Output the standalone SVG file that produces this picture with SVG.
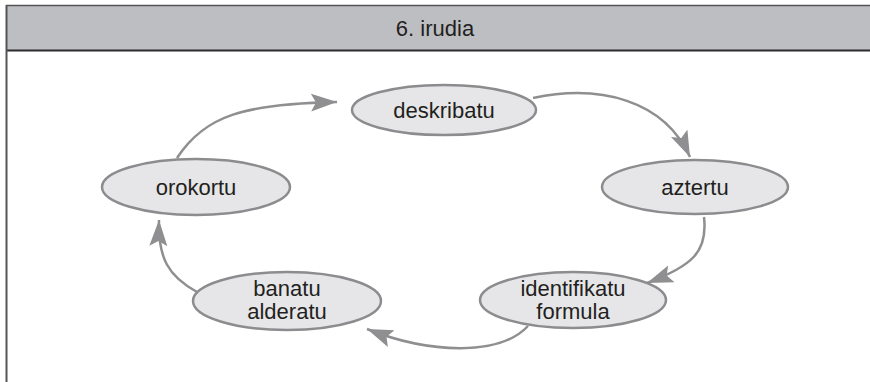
<svg xmlns="http://www.w3.org/2000/svg" width="870" height="382" viewBox="0 0 870 382">
<style>
  .node ellipse { fill: #e6e6e8; stroke: #8c8c8e; stroke-width: 2.5; }
  .node text { font-family: "Liberation Sans", Arial, sans-serif; font-size: 22px; fill: #231f20; text-anchor: middle; }
  .title { font-family: "Liberation Sans", Arial, sans-serif; font-size: 22px; fill: #231f20; text-anchor: middle; }
  #connectors path { fill: none; stroke: #8f8f91; stroke-width: 2.5; marker-end: url(#arrow); }
</style>
<defs>
  <marker id="arrow" markerUnits="userSpaceOnUse" markerWidth="28" markerHeight="20" viewBox="0 0 28 20" refX="26" refY="10" orient="auto">
    <path d="M0,1 L26,10 L0,19 L5,10 Z" fill="#8f8f91"/>
  </marker>
</defs>
<rect x="0" y="0" width="870" height="382" fill="#ffffff"/>
<g id="frame">
  <rect x="6" y="5" width="866" height="45" fill="#bdbec1"/>
  <line x1="6" y1="5.5" x2="870" y2="5.5" stroke="#555557" stroke-width="1.5"/>
  <line x1="6" y1="50.5" x2="870" y2="50.5" stroke="#2b2b2d" stroke-width="2"/>
  <line x1="6.5" y1="5" x2="6.5" y2="382" stroke="#555557" stroke-width="2"/>
  <text class="title" x="435" y="36">6. irudia</text>
</g>
<g id="connectors">
  <path d="M177,158 C205,115 245,104 337,102"/>
  <path d="M533,98 C600,84 664,100 690,157"/>
  <path d="M704,217 C708,252 692,266 647,283"/>
  <path d="M528,326 C500,356 430,354 367,329"/>
  <path d="M197,292 C168,276 158,258 159,220"/>
</g>
<g id="deskribatu" class="node">
  <ellipse cx="444" cy="110" rx="92" ry="25"/>
  <text x="444" y="118">deskribatu</text>
</g>
<g id="aztertu" class="node">
  <ellipse cx="695" cy="187" rx="93" ry="27"/>
  <text x="695" y="195">aztertu</text>
</g>
<g id="orokortu" class="node">
  <ellipse cx="196" cy="187" rx="94" ry="28"/>
  <text x="196" y="195">orokortu</text>
</g>
<g id="identifikatu" class="node">
  <ellipse cx="573" cy="300" rx="93" ry="28"/>
  <text x="573" y="296">identifikatu</text>
  <text x="573" y="319">formula</text>
</g>
<g id="banatu" class="node">
  <ellipse cx="287" cy="301" rx="94" ry="29"/>
  <text x="287" y="296">banatu</text>
  <text x="287" y="319">alderatu</text>
</g>
</svg>
